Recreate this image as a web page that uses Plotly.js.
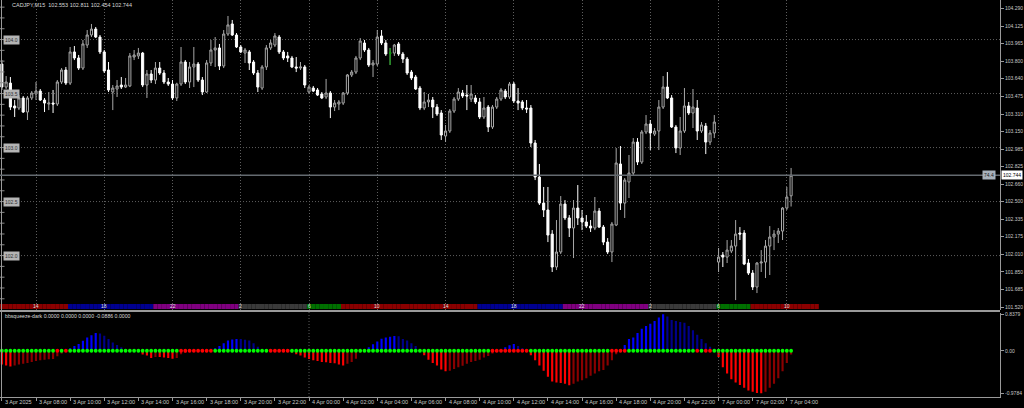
<!DOCTYPE html>
<html><head><meta charset="utf-8">
<script src="https://cdn.plot.ly/plotly-3.0.1.min.js"></script>
<style>html,body{margin:0;padding:0;background:#000;}#c{width:1024px;height:408px;}</style>
</head><body><div id="c"></div>
<script>
// ---------- DATA ----------
const symbolName = 'CADJPY,M15';
const tradingBlocks = [['2025-04-03T06:00:00Z','2025-04-05T00:00:00Z'],['2025-04-07T00:00:00Z','2025-04-07T06:00:00Z']];

const open = [
103.773,103.560,103.597,103.385,103.366,103.459,103.329,103.459,103.496,103.523,
103.440,103.403,103.412,103.403,103.607,103.718,103.597,103.885,103.829,103.736,
103.949,104.042,104.097,104.023,103.885,103.718,103.514,103.542,103.579,103.560,
103.570,103.838,103.848,103.875,103.579,103.681,103.625,103.736,103.690,103.607,
103.588,103.459,103.588,103.792,103.607,103.746,103.773,103.625,103.514,103.783,
103.903,103.922,103.755,104.051,104.144,104.042,103.931,103.875,103.885,103.792,
103.690,103.551,103.746,103.922,103.949,104.023,103.885,103.848,103.829,103.746,
103.736,103.746,103.514,103.551,103.533,103.496,103.468,103.505,103.375,103.403,
103.412,103.505,103.672,103.699,103.829,103.968,103.903,103.764,103.773,104.033,
103.968,103.875,103.875,103.959,103.866,103.820,103.699,103.653,103.551,103.366,
103.422,103.440,103.375,103.320,103.107,103.153,103.338,103.449,103.505,103.486,
103.449,103.459,103.422,103.283,103.375,103.190,103.375,103.449,103.523,103.468,
103.588,103.431,103.422,103.366,103.366,103.042,102.727,102.486,102.422,102.199,
101.894,102.033,102.477,102.348,102.255,102.440,102.348,102.311,102.273,102.255,
102.412,102.264,102.125,102.033,102.283,102.848,102.486,102.681,102.764,103.051,
102.866,103.144,103.218,103.125,103.153,103.375,103.560,103.459,103.190,102.996,
103.153,103.385,103.320,103.366,103.153,103.199,103.051,103.135,101.940,102.005,
101.986,102.042,102.088,102.209,102.209,101.931,101.838,101.709,101.931,101.940,
102.088,102.172,102.199,102.227,102.440,102.553];
const high = [
103.810,103.662,103.653,103.440,103.486,103.477,103.477,103.523,103.607,103.542,
103.459,103.514,103.533,103.625,103.736,103.746,103.931,103.940,103.857,103.996,
104.088,104.144,104.116,104.042,103.903,103.792,103.579,103.625,103.653,103.644,
103.875,103.903,103.922,103.885,103.718,103.718,103.792,103.792,103.718,103.644,
103.625,103.600,103.931,103.810,103.792,103.931,103.792,103.653,103.810,103.996,
104.023,103.959,104.088,104.218,104.181,104.060,103.949,103.922,103.903,103.810,
103.718,103.764,103.949,103.996,104.060,104.042,103.903,103.885,103.848,103.838,
103.792,103.764,103.579,103.570,103.551,103.514,103.635,103.523,103.440,103.440,
103.514,103.681,103.718,103.848,104.014,103.996,103.922,103.810,104.088,104.088,
103.996,103.922,103.959,103.977,103.885,103.838,103.718,103.672,103.570,103.514,
103.496,103.468,103.403,103.347,103.209,103.357,103.468,103.551,103.533,103.579,
103.579,103.486,103.459,103.468,103.394,103.394,103.468,103.551,103.542,103.607,
103.607,103.551,103.440,103.440,103.394,103.070,102.848,102.635,102.635,102.236,
102.329,102.551,102.514,102.375,102.514,102.653,102.422,102.375,102.329,102.542,
102.440,102.283,102.162,102.311,102.996,103.014,102.718,102.931,103.088,103.088,
103.162,103.301,103.255,103.181,103.440,103.662,103.699,103.486,103.209,103.283,
103.551,103.422,103.542,103.440,103.236,103.227,103.162,103.301,102.070,102.033,
102.144,102.144,102.329,102.264,102.236,101.968,101.866,101.940,102.051,102.144,
102.273,102.236,102.255,102.449,102.635,102.811];
const low = [
103.533,103.542,103.347,103.283,103.347,103.320,103.255,103.440,103.440,103.431,
103.329,103.347,103.320,103.385,103.588,103.579,103.579,103.810,103.718,103.718,
103.922,104.023,104.014,103.866,103.690,103.514,103.347,103.468,103.542,103.551,
103.560,103.810,103.820,103.560,103.459,103.597,103.588,103.672,103.588,103.570,
103.440,103.431,103.570,103.588,103.551,103.560,103.607,103.486,103.505,103.755,
103.746,103.718,103.736,104.033,104.033,103.922,103.875,103.783,103.718,103.672,
103.514,103.533,103.718,103.903,103.931,103.866,103.810,103.792,103.736,103.699,
103.718,103.551,103.496,103.514,103.477,103.449,103.449,103.273,103.338,103.347,
103.394,103.486,103.653,103.681,103.810,103.885,103.746,103.653,103.755,103.949,
103.848,103.764,103.848,103.848,103.783,103.672,103.625,103.533,103.347,103.347,
103.375,103.273,103.292,103.070,103.051,103.135,103.320,103.431,103.459,103.347,
103.422,103.403,103.264,103.264,103.144,103.172,103.357,103.431,103.449,103.449,
103.412,103.347,103.347,103.320,103.005,102.699,102.468,102.357,102.125,101.848,
101.866,102.014,102.329,102.172,101.977,102.283,102.236,102.255,102.218,102.236,
102.255,102.097,102.014,101.940,102.273,102.422,102.348,102.533,102.746,102.838,
102.848,103.125,102.977,103.107,102.977,103.357,103.449,103.181,102.949,102.931,
103.135,103.301,103.181,103.070,103.135,102.940,103.023,103.088,101.848,101.894,
101.931,102.023,101.588,102.144,101.912,101.820,101.681,101.653,101.848,101.792,
101.820,102.051,102.116,102.144,102.422,102.454];
const close = [
103.560,103.607,103.375,103.366,103.459,103.329,103.459,103.505,103.523,103.440,
103.412,103.412,103.403,103.607,103.718,103.597,103.885,103.829,103.736,103.959,
104.042,104.097,104.023,103.885,103.709,103.533,103.551,103.570,103.560,103.579,
103.848,103.857,103.875,103.579,103.681,103.625,103.736,103.690,103.607,103.588,
103.459,103.588,103.792,103.607,103.746,103.773,103.625,103.514,103.783,103.903,
103.922,103.755,104.051,104.135,104.042,103.931,103.885,103.903,103.783,103.690,
103.560,103.746,103.922,103.968,104.033,103.885,103.829,103.829,103.746,103.736,
103.746,103.579,103.560,103.523,103.486,103.459,103.505,103.375,103.412,103.422,
103.505,103.672,103.699,103.829,103.986,103.903,103.764,103.783,104.023,103.968,
103.866,103.875,103.949,103.866,103.820,103.690,103.644,103.542,103.366,103.422,
103.440,103.375,103.310,103.116,103.153,103.338,103.449,103.514,103.477,103.477,
103.496,103.422,103.283,103.366,103.190,103.375,103.449,103.533,103.468,103.588,
103.431,103.412,103.366,103.357,103.042,102.727,102.486,102.422,102.190,101.894,
102.033,102.477,102.348,102.255,102.440,102.348,102.311,102.273,102.255,102.412,
102.264,102.125,102.033,102.292,102.857,102.486,102.699,102.764,103.051,102.866,
103.144,103.218,103.135,103.153,103.375,103.560,103.459,103.190,102.996,103.153,
103.385,103.320,103.375,103.153,103.209,103.051,103.135,103.236,101.986,101.986,
102.051,102.088,102.199,102.199,101.922,101.838,101.709,101.931,101.940,102.088,
102.172,102.199,102.227,102.440,102.542,102.744];

// bbsqueeze histogram values and squeeze state (1 = squeeze / red dot)
const squeezeHist = [
-0.315,-0.339,-0.362,-0.339,-0.315,-0.299,-0.283,-0.260,-0.236,-0.220,
-0.205,-0.197,-0.189,-0.126,-0.063,-0.016,0.055,0.110,0.157,0.228,
0.307,0.354,0.409,0.394,0.346,0.268,0.189,0.134,0.079,0.039,
0.016,-0.005,-0.030,-0.087,-0.110,-0.165,-0.142,-0.142,-0.157,-0.165,
-0.181,-0.165,-0.079,-0.047,-0.030,-0.020,-0.010,-0.005,0.005,0.020,
0.055,0.110,0.173,0.236,0.260,0.270,0.268,0.252,0.236,0.173,
0.094,0.039,0.010,-0.005,0.005,0.010,0.005,-0.010,-0.039,-0.079,
-0.110,-0.157,-0.189,-0.220,-0.236,-0.260,-0.262,-0.283,-0.285,-0.315,
-0.339,-0.299,-0.260,-0.181,-0.040,0.015,0.079,0.150,0.213,0.276,
0.307,0.323,0.339,0.331,0.268,0.236,0.173,0.110,0.031,-0.102,
-0.205,-0.283,-0.339,-0.433,-0.472,-0.457,-0.417,-0.378,-0.346,-0.299,
-0.260,-0.236,-0.205,-0.157,-0.118,-0.063,-0.024,0.031,0.079,0.126,
0.157,0.110,0.055,0.008,-0.102,-0.220,-0.339,-0.457,-0.598,-0.709,
-0.732,-0.740,-0.756,-0.795,-0.756,-0.709,-0.677,-0.630,-0.575,-0.520,
-0.472,-0.441,-0.339,-0.220,-0.079,0.016,0.134,0.268,0.307,0.409,
0.504,0.567,0.622,0.685,0.764,0.838,0.787,0.709,0.685,0.661,
0.646,0.567,0.472,0.370,0.268,0.173,0.094,0.047,-0.142,-0.378,
-0.520,-0.654,-0.732,-0.787,-0.850,-0.913,-0.945,-0.969,-0.978,-0.945,
-0.850,-0.756,-0.630,-0.472,-0.283,-0.0886];
const squeezeOn = [
0,0,0,0,0,0,0,0,0,0, 0,0,0,1,0,1,0,0,0,0, 0,0,0,0,0,0,0,0,0,0, 0,0,0,0,0,0,0,0,0,0,
0,0,1,1,1,1,1,1,1,1, 0,0,0,0,0,0,0,0,0,0, 0,0,0,1,1,1,1,1,0,0, 0,0,0,0,0,0,0,0,0,0,
0,0,0,0,0,0,0,0,0,0, 0,0,0,0,0,0,0,0,0,0, 0,0,0,0,0,0,0,0,0,0, 0,0,0,0,0,1,1,1,1,1,
1,1,1,1,0,0,0,0,0,0, 0,0,0,0,0,0,0,0,0,0, 0,0,0,1,1,1,1,0,0,0, 0,0,0,0,0,0,0,0,0,0,
0,0,0,1,0,1,1,0,0,0, 0,0,0,0,0,0,0,0,0,0, 0,0,0,0,0,0];
const indicatorName = 'bbsqueeze-dark';

// price axis labels (right) and round levels (left)
const rightTickVals = [104.290,104.125,103.965,103.800,103.640,103.475,103.310,103.150,102.985,102.825,102.660,102.500,102.335,102.175,102.010,101.850,101.685,101.520];
const roundLevels = [104.0,103.5,103.0,102.5,102.0];
const rulerLevels = [101.6,101.7,101.8,101.9,102.0,102.1,102.2,102.3,102.4,102.5,102.6,102.7,102.8,102.9,103.0,103.1,103.2,103.3,103.4,103.5,103.6,103.7,103.8,103.9,104.0,104.1,104.2,104.3];
const indTickVals = [0.8379, 0, -0.9784];
const indTickText = ['0.8379','0.00','-0.9784'];
const priceTagText = '74.4';

// time axis
const timeLabelAt = ['2025-04-03 06:00','2025-04-03 08:00','2025-04-03 10:00','2025-04-03 12:00','2025-04-03 14:00','2025-04-03 16:00','2025-04-03 18:00','2025-04-03 20:00','2025-04-03 22:00',
 '2025-04-04 00:00','2025-04-04 02:00','2025-04-04 04:00','2025-04-04 06:00','2025-04-04 08:00','2025-04-04 10:00','2025-04-04 12:00','2025-04-04 14:00','2025-04-04 16:00','2025-04-04 18:00','2025-04-04 20:00','2025-04-04 22:00',
 '2025-04-07 00:00','2025-04-07 02:00','2025-04-07 04:00'];
const timeLabelText = ['3 Apr 2025','3 Apr 08:00','3 Apr 10:00','3 Apr 12:00','3 Apr 14:00','3 Apr 16:00','3 Apr 18:00','3 Apr 20:00','3 Apr 22:00',
 '4 Apr 00:00','4 Apr 02:00','4 Apr 04:00','4 Apr 06:00','4 Apr 08:00','4 Apr 10:00','4 Apr 12:00','4 Apr 14:00','4 Apr 16:00','4 Apr 18:00','4 Apr 20:00','4 Apr 22:00',
 '7 Apr 00:00','7 Apr 02:00','7 Apr 04:00'];
const gridTimes = ['2025-04-03 08:00','2025-04-03 12:00','2025-04-03 16:00','2025-04-03 20:00','2025-04-04 00:00','2025-04-04 04:00','2025-04-04 08:00','2025-04-04 12:00','2025-04-04 16:00','2025-04-04 20:00','2025-04-07 00:00','2025-04-07 04:00'];
const sessionHourText = ['14','18','22','2','6','10','14','18','22','2','6','10'];
const daySeparators = ['2025-04-04 00:00','2025-04-07 00:00'];

// sessions strip
const sessionStarts = ['2025-04-03 06:00','2025-04-03 10:00','2025-04-03 15:00','2025-04-03 20:00','2025-04-04 00:00','2025-04-04 02:00','2025-04-04 10:00','2025-04-04 15:00','2025-04-04 20:00','2025-04-07 00:00','2025-04-07 02:00'];
const sessionKinds = ['eu','us','late','off','asia','eu','us','late','off','asia','eu'];

// ---------- STYLE ----------
const FONT = 'Liberation Sans, Arial, sans-serif';
const sessionColors = {eu:'#8b0000', us:'#000090', late:'#800080', off:'#3a3a3a', asia:'#007000'};
const GRID = '#5e5e5e', FRAME = '#9a9a9a', TXT = '#c8c8c8', DOTS = '1px,2px';

// ---------- BUILD ----------
const pad = n => String(n).padStart(2,'0');
const fmt = ms => { const d = new Date(ms); return d.getUTCFullYear()+'-'+pad(d.getUTCMonth()+1)+'-'+pad(d.getUTCDate())+' '+pad(d.getUTCHours())+':'+pad(d.getUTCMinutes()); };
const times = [];
for (const [a,b] of tradingBlocks) for (let t = Date.parse(a); t < Date.parse(b); t += 900000) times.push(fmt(t));
const n = open.length;
const ct = times.slice(0, n);
const xRange = [-0.438, 233.97];

const doji = ct.map((t,i)=>i).filter(i => open[i] === close[i]);

const histColors = squeezeHist.map((v,i) => {
  const p = i > 0 ? squeezeHist[i-1] : v;
  if (v >= 0) return v >= p ? '#0000ff' : '#00008b';
  return v <= p ? '#ff0000' : '#8b0000';
});
const sessOf = t => { let k = 0; sessionStarts.forEach((s,j) => { if (s <= t) k = j; }); return sessionKinds[k]; };

const traces = [
  {type:'candlestick', x:ct, open, high, low, close, xaxis:'x', yaxis:'y',
   increasing:{line:{color:'#a8a8a8', width:1}, fillcolor:'#000000'},
   decreasing:{line:{color:'#ffffff', width:1}, fillcolor:'#ffffff'},
   whiskerwidth:0, hoverinfo:'skip', showlegend:false},
  {type:'candlestick', x:doji.map(i=>ct[i]), open:doji.map(i=>open[i]), high:doji.map(i=>high[i]), low:doji.map(i=>low[i]), close:doji.map(i=>close[i]),
   xaxis:'x', yaxis:'y', increasing:{line:{color:'#00a000', width:1}, fillcolor:'#00a000'},
   decreasing:{line:{color:'#00a000', width:1}, fillcolor:'#00a000'}, whiskerwidth:0, hoverinfo:'skip', showlegend:false},
  {type:'bar', x:times, y:times.map(()=>1), xaxis:'x', yaxis:'y3', width:1,
   marker:{color:times.map(t => sessionColors[sessOf(t)]), line:{width:0}}, hoverinfo:'skip', showlegend:false},
  {type:'bar', x:ct, y:squeezeHist, xaxis:'x2', yaxis:'y2', width:0.5,
   marker:{color:histColors, line:{width:0}}, hoverinfo:'skip', showlegend:false},
  {type:'scatter', mode:'markers', x:ct, y:ct.map(()=>0), xaxis:'x2', yaxis:'y2',
   marker:{size:3.8, color:squeezeOn.map(s => s ? '#ff0000' : '#00ff00')}, hoverinfo:'skip', showlegend:false}
];

const last = n - 1;
const shapes = [];
roundLevels.forEach(v => shapes.push({type:'line', xref:'paper', x0:0, x1:1, yref:'y', y0:v, y1:v, line:{color:GRID, width:1, dash:DOTS}, layer:'below'}));
rulerLevels.forEach(v => shapes.push({type:'line', xref:'paper', x0:0, x1:0.0045, yref:'y', y0:v, y1:v, line:{color:'#8a8a8a', width:1}}));
shapes.push({type:'line', xref:'paper', x0:0.0015, x1:0.0015, yref:'paper', y0:0, y1:1, line:{color:FRAME, width:1}});
shapes.push({type:'line', xref:'paper', x0:0, x1:1, yref:'y', y0:close[last], y1:close[last], line:{color:'#646a70', width:1.5}});
shapes.push({type:'line', xref:'paper', x0:0, x1:1, yref:'paper', y0:0.2166, y1:0.2166, line:{color:FRAME, width:2}});
daySeparators.forEach(t => { const k = times.indexOf(t); shapes.push({type:'line', xref:'x2', x0:k, x1:k, yref:'paper', y0:0, y1:0.2150, line:{color:GRID, width:1, dash:DOTS}}); });

const ann = [];
ann.push({xref:'paper', yref:'paper', x:0.010, y:0.9874, xanchor:'left', yanchor:'middle', showarrow:false,
  text: symbolName + '  ' + [open[last],high[last],low[last],close[last]].map(v=>v.toFixed(3)).join(' '), font:{family:FONT, size:5.5, color:'#d8d8d8'}});
ann.push({xref:'paper', yref:'paper', x:0.003, y:0.204, xanchor:'left', yanchor:'middle', showarrow:false,
  text: indicatorName + ' 0.0000 0.0000 0.0000 ' + squeezeHist[last].toFixed(4) + ' 0.0000', font:{family:FONT, size:5.2, color:'#d8d8d8'}});
roundLevels.forEach(v => ann.push({xref:'paper', yref:'y', x:0.0025, y:v, xanchor:'left', yanchor:'middle', showarrow:false,
  text:v.toFixed(1), bgcolor:'#b4b4b4', borderpad:1, font:{family:FONT, size:5, color:'#303030'}}));
ann.push({xref:'paper', yref:'y', x:0.996, y:close[last], xanchor:'right', yanchor:'middle', showarrow:false,
  text:priceTagText, bgcolor:'#a8b2bc', borderpad:1, font:{family:FONT, size:5, color:'#202020'}});
ann.push({xref:'paper', yref:'y', x:1.0, xshift:1, y:close[last], xanchor:'left', yanchor:'middle', showarrow:false,
  text:close[last].toFixed(3), bgcolor:'#ffffff', borderpad:1, font:{family:FONT, size:5, color:'#000000'}});
timeLabelAt.forEach((t,j) => ann.push({xref:'x2', yref:'paper', x:times.indexOf(t), xshift:1, y:-0.0126, xanchor:'left', yanchor:'middle', showarrow:false,
  text:timeLabelText[j], font:{family:FONT, size:5.5, color:TXT}}));
gridTimes.forEach((t,j) => ann.push({xref:'x', yref:'y3', x:times.indexOf(t), y:0.5, xanchor:'center', yanchor:'middle', showarrow:false,
  text:sessionHourText[j], font:{family:FONT, size:5, color:'#e0e0e0'}}));

const layout = {
  width:1024, height:408, margin:{l:0, r:24, t:0, b:11, pad:0},
  paper_bgcolor:'#000000', plot_bgcolor:'#000000', showlegend:false,
  xaxis:{type:'category', categoryorder:'array', categoryarray:times, range:xRange, anchor:'y', domain:[0,1],
    tickvals:gridTimes, showticklabels:false, ticks:'', showgrid:true, gridcolor:GRID, griddash:DOTS, gridwidth:1,
    zeroline:false, showline:false, rangeslider:{visible:false}, fixedrange:true},
  xaxis2:{type:'category', categoryorder:'array', categoryarray:times, range:xRange, anchor:'y2', domain:[0,1],
    tickvals:timeLabelAt, showticklabels:false, ticks:'outside', ticklen:3, tickcolor:FRAME, showgrid:false,
    zeroline:false, showline:true, linecolor:FRAME, linewidth:1, fixedrange:true},
  yaxis:{domain:[0.2191,1], range:[101.496,104.366], side:'right', anchor:'x', tickvals:rightTickVals,
    ticktext:rightTickVals.map(v=>v.toFixed(3)), tickfont:{family:FONT, size:5, color:TXT}, ticks:'outside', ticklen:3,
    tickcolor:FRAME, showgrid:false, zeroline:false, showline:true, linecolor:FRAME, linewidth:1, fixedrange:true},
  yaxis2:{domain:[0,0.2128], range:[-1.063,0.879], side:'right', anchor:'x2', tickvals:indTickVals, ticktext:indTickText,
    tickfont:{family:FONT, size:5, color:TXT}, ticks:'outside', ticklen:3, tickcolor:FRAME, showgrid:false, zeroline:false,
    showline:true, linecolor:FRAME, linewidth:1, fixedrange:true},
  yaxis3:{domain:[0.2217,0.2343], range:[0,1], anchor:'x', visible:false, fixedrange:true},
  shapes, annotations:ann
};
Plotly.newPlot('c', traces, layout, {staticPlot:true, displayModeBar:false});
</script></body></html>
